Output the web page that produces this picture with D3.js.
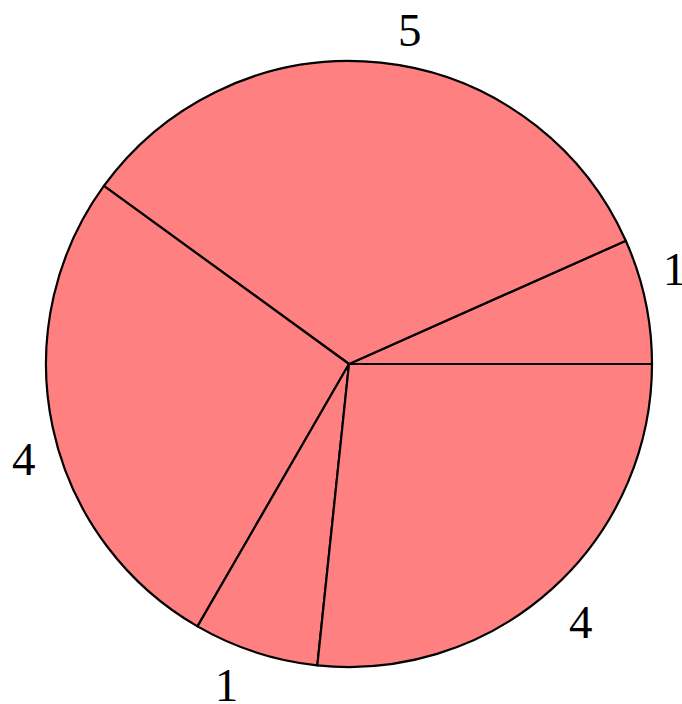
<!DOCTYPE html>
<html>
<head>
<meta charset="utf-8">
<script src="https://cdn.jsdelivr.net/npm/d3@7"></script>
<style>
  html, body { margin: 0; padding: 0; background: #fff; }
</style>
</head>
<body>
<div id="chart"></div>
<script>
// slice values, counterclockwise from 3 o'clock
const values = [1, 5, 4, 1, 4];
const labels = ["1", "5", "4", "1", "4"];

const width = 682;
const height = 704;
const cx = 349, cy = 364;
const radius = 303;

const svg = d3.select("#chart").append("svg")
    .attr("width", width)
    .attr("height", height);

const g = svg.append("g")
    .attr("transform", `translate(${cx},${cy})`);

// d3 angles run clockwise from 12 o'clock, so go backwards from 3 o'clock
const pie = d3.pie()
    .sort(null)
    .startAngle(Math.PI / 2)
    .endAngle(Math.PI / 2 - 2 * Math.PI);

const arcs = pie(values);

const arc = d3.arc()
    .innerRadius(0)
    .outerRadius(radius);

g.selectAll("path")
    .data(arcs)
    .join("path")
    .attr("d", arc)
    .attr("fill", "#ff8080")
    .attr("stroke", "#000")
    .attr("stroke-width", 2.2)
    .attr("stroke-linejoin", "round");

// labels: anchored at the rim on the mid angle, box pushed outward by quadrant
const boxHalfW = 29, boxHalfH = 32.5;
g.selectAll("text")
    .data(arcs)
    .join("text")
    .attr("x", d => {
        const a = (d.startAngle + d.endAngle) / 2;
        const x = radius * Math.sin(a);
        return x + Math.sign(x) * boxHalfW;
    })
    .attr("y", d => {
        const a = (d.startAngle + d.endAngle) / 2;
        const y = -radius * Math.cos(a);
        return y + Math.sign(y) * boxHalfH + 16;
    })
    .attr("text-anchor", "middle")
    .attr("font-family", "'Liberation Serif', 'DejaVu Serif', serif")
    .attr("font-size", 47)
    .attr("fill", "#000")
    .text((d, i) => labels[i]);
</script>
</body>
</html>
